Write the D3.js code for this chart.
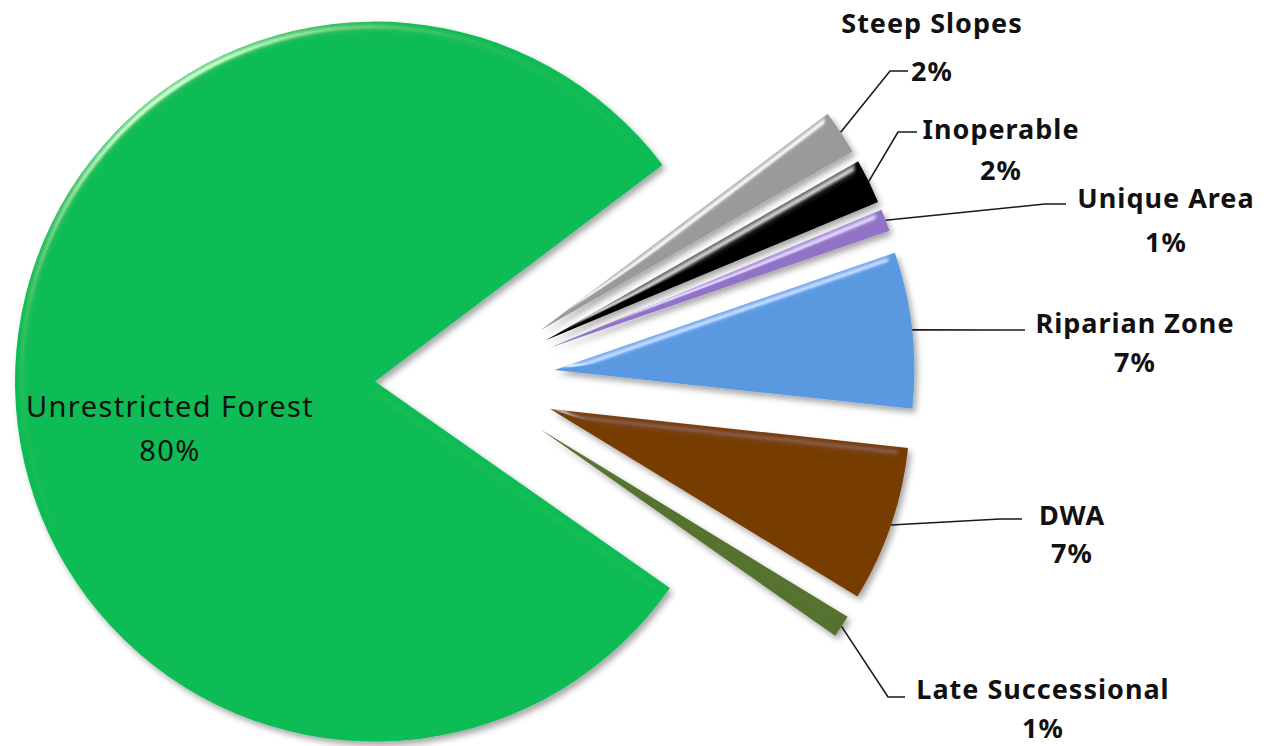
<!DOCTYPE html>
<html><head><meta charset="utf-8">
<script src="https://cdn.jsdelivr.net/npm/d3@7"></script>
<style>html,body{margin:0;padding:0;background:#fff;}svg{display:block;}</style>
</head><body>
<svg id="chart" width="1275" height="746"></svg>
<script>
// ---- data ----
const categories = ["Unrestricted Forest","Steep Slopes","Inoperable","Unique Area","Riparian Zone","DWA","Late Successional"];
const values = [80, 2, 2, 1, 7, 7, 1];
const pctLabels = ["80%","2%","2%","1%","7%","7%","1%"];
const colors = ["#08bc54","#9a9a9a","#050505","#9073c6","#5a99e0","#773c06","#55722f"];

// ---- layout (not data) ----
const cx = 465, cy = 380, R = 360, explode = 90;
const labelLayout = [
  {x: 170,  y1: 405, y2: 449, inside: true},
  {x: 932,  y1: 22,  y2: 70,  elbow: [890, 71],  end: [908, 71]},
  {x: 1001, y1: 128, y2: 169, elbow: [898, 132], end: [917, 132]},
  {x: 1166, y1: 197, y2: 241, elbow: [1045, 204], end: [1066, 204]},
  {x: 1135, y1: 322, y2: 361, elbow: [1000, 330], end: [1025, 330]},
  {x: 1072, y1: 514, y2: 552, elbow: [1000, 519], end: [1022, 519]},
  {x: 1043, y1: 688, y2: 727, elbow: [888, 697], end: [905, 697]}
];

const svg = d3.select("#chart");
const defs = svg.append("defs");
const f = defs.append("filter").attr("id","bevel")
  .attr("x","-20%").attr("y","-20%").attr("width","140%").attr("height","140%");
f.append("feGaussianBlur").attr("in","SourceAlpha").attr("stdDeviation",4).attr("result","blur");
const spec = f.append("feSpecularLighting").attr("in","blur").attr("surfaceScale",4)
  .attr("specularConstant",0.6).attr("specularExponent",60).attr("lighting-color","#ffffff").attr("result","spec");
spec.append("feDistantLight").attr("azimuth",235).attr("elevation",40);
f.append("feComposite").attr("in","spec").attr("in2","SourceAlpha").attr("operator","in").attr("result","specIn");
f.append("feComposite").attr("in","SourceGraphic").attr("in2","specIn").attr("operator","arithmetic")
  .attr("k1",0).attr("k2",1).attr("k3",1).attr("k4",0).attr("result","lit");
f.append("feGaussianBlur").attr("in","SourceAlpha").attr("stdDeviation",3).attr("result","sh");
f.append("feOffset").attr("in","sh").attr("dx",3).attr("dy",4).attr("result","sho");
const ct = f.append("feComponentTransfer").attr("in","sho").attr("result","shf");
ct.append("feFuncA").attr("type","linear").attr("slope",0.35);
const fm = f.append("feMerge");
fm.append("feMergeNode").attr("in","shf");
fm.append("feMergeNode").attr("in","lit");

const data = categories.map((c,i)=>({name:c, value:values[i], label:pctLabels[i], color:colors[i], lay:labelLayout[i]}));

const startA = 125 * Math.PI/180;
const pie = d3.pie().sort(null).value(d=>d.value).startAngle(startA).endAngle(startA + 2*Math.PI);
const arcs = pie(data);
const arc = d3.arc().innerRadius(0).outerRadius(R);

const g = svg.append("g").attr("transform",`translate(${cx},${cy})`);

function offset(d){
  const m = (d.startAngle + d.endAngle)/2;
  return [explode*Math.sin(m), -explode*Math.cos(m)];
}

g.selectAll("path.slice").data(arcs).enter().append("path")
  .attr("class","slice")
  .attr("d", arc)
  .attr("fill", d=>d.data.color)
  .attr("filter","url(#bevel)")
  .attr("transform", d=>{const o=offset(d); return `translate(${o[0]},${o[1]})`;});

// leader lines
const leaders = arcs.filter(d=>!d.data.lay.inside);
svg.selectAll("path.leader").data(leaders).enter().append("path")
  .attr("class","leader")
  .attr("fill","none").attr("stroke","#1a1a1a").attr("stroke-width",1.6)
  .attr("d", d=>{
    const o = offset(d), m=(d.startAngle+d.endAngle)/2;
    const sx = cx + o[0] + R*Math.sin(m), sy = cy + o[1] - R*Math.cos(m);
    const L = d.data.lay;
    return d3.line()([[sx,sy], L.elbow, L.end]);
  });

// labels
function styleText(sel){
  sel.attr("text-anchor","middle").attr("dominant-baseline","central")
    .style("font-family","'Noto Sans', 'Open Sans', sans-serif")
    .style("font-size", d=>d.data.lay.inside ? "29px" : "27px")
    .style("letter-spacing", d=>d.data.lay.inside ? "1.4px" : "1px")
    .style("font-weight", d=>d.data.lay.inside ? "normal" : "bold")
    .attr("fill","#111");
}
const lab = svg.selectAll("g.lab").data(arcs).enter().append("g").attr("class","lab");
lab.append("text")
  .attr("x", d=>d.data.lay.x).attr("y", d=>d.data.lay.y1)
  .call(styleText)
  .text(d=>d.data.name);
lab.append("text")
  .attr("x", d=>d.data.lay.x).attr("y", d=>d.data.lay.y2)
  .call(styleText)
  .text(d=>d.data.label);
</script>
</body></html>
